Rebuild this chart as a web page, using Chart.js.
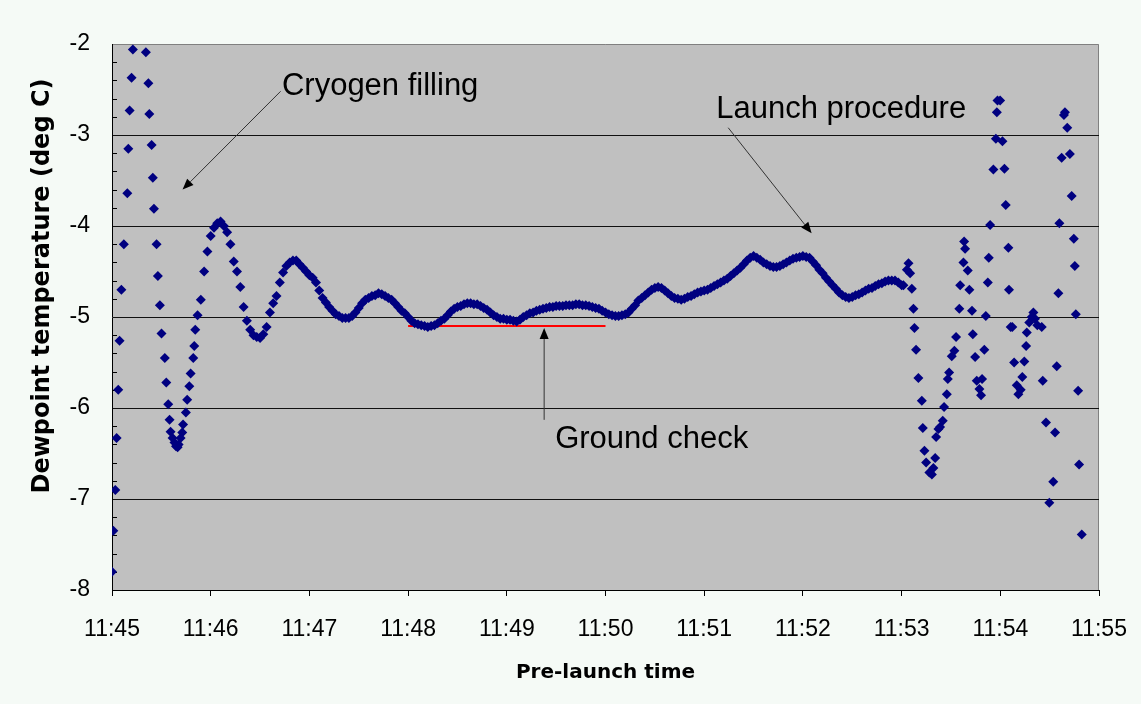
<!DOCTYPE html>
<html>
<head>
<meta charset="utf-8">
<title>Dewpoint temperature</title>
<script src="https://cdn.jsdelivr.net/npm/chart.js@4.4.1/dist/chart.umd.min.js"></script>
<style>
  html, body { margin: 0; padding: 0; background: #f5faf6; }
  canvas { display: block; }
</style>
</head>
<body>
<canvas id="dewChart" width="1141" height="704"></canvas>
<script>
// times are seconds after 11:45:00, values are dewpoint in deg C

// cryogen filling, sparse samples (values above -2 are off the chart)
const earlyTimes = [0, 0.8, 2.0, 2.8, 3.8, 4.6, 5.7, 7.2, 9.3, 9.9, 10.7, 11.9, 12.7,
  20.6, 22.1, 22.7, 24.1, 24.8, 25.5, 27.1, 27.9, 29.1, 30.1, 32.1, 33.0, 34.2, 35.0, 35.6,
  36.8, 38.0, 38.9, 39.9, 40.5, 41.7, 42.7, 43.2, 44.9, 45.7, 47.0, 47.8, 49.4, 50.0, 50.6, 52.0];
const earlyValues = [-7.80, -7.35, -6.90, -6.33, -5.80, -5.26, -4.70, -4.20, -3.64, -3.15, -2.73, -2.37, -2.06,
  -2.09, -2.43, -2.77, -3.11, -3.47, -3.81, -4.20, -4.55, -4.87, -5.18, -5.45, -5.72, -5.96, -6.13, -6.26,
  -6.33, -6.38, -6.42, -6.43, -6.40, -6.33, -6.27, -6.18, -6.05, -5.91, -5.76, -5.62, -5.45, -5.32, -5.14, -4.98];

// settled part, one reading every 2 s from 11:45:54 to 11:53:00
const settledStart = 54;
const settledStep = 2;
const settledValues = [
  -4.81, -4.50, -4.28, -4.11, -4.02, -3.97, -3.95, -4.00, -4.07, -4.20,
  -4.39, -4.50, -4.67, -4.89, -5.04, -5.14, -5.20, -5.22, -5.23, -5.19,
  -5.11, -4.95, -4.85, -4.77, -4.62, -4.51, -4.44, -4.40, -4.38, -4.38,
  -4.42, -4.46, -4.50, -4.54, -4.57, -4.62, -4.71, -4.79, -4.84, -4.89,
  -4.93, -4.97, -4.99, -5.01, -5.01, -5.01, -4.99, -4.95, -4.90, -4.85,
  -4.81, -4.79, -4.77, -4.76, -4.74, -4.75, -4.77, -4.79, -4.81, -4.85,
  -4.89, -4.93, -4.96, -5.00, -5.04, -5.07, -5.08, -5.09, -5.10, -5.11,
  -5.10, -5.09, -5.07, -5.04, -5.02, -4.98, -4.94, -4.91, -4.89, -4.88,
  -4.86, -4.85, -4.85, -4.86, -4.86, -4.88, -4.90, -4.92, -4.95, -4.98,
  -5.00, -5.02, -5.02, -5.03, -5.03, -5.04, -5.05, -5.03, -5.00, -4.98,
  -4.96, -4.95, -4.93, -4.92, -4.91, -4.90, -4.89, -4.89, -4.88, -4.88,
  -4.88, -4.87, -4.87, -4.87, -4.86, -4.86, -4.87, -4.87, -4.88, -4.89,
  -4.90, -4.91, -4.93, -4.95, -4.97, -4.98, -4.99, -4.99, -4.98, -4.97,
  -4.95, -4.91, -4.87, -4.82, -4.79, -4.76, -4.73, -4.70, -4.68, -4.67,
  -4.68, -4.71, -4.74, -4.77, -4.79, -4.80, -4.81, -4.80, -4.78, -4.77,
  -4.75, -4.73, -4.72, -4.71, -4.70, -4.68, -4.66, -4.64, -4.62, -4.60,
  -4.58, -4.55, -4.52, -4.49, -4.46, -4.42, -4.38, -4.35, -4.33, -4.35,
  -4.37, -4.40, -4.42, -4.44, -4.45, -4.45, -4.44, -4.42, -4.40, -4.38,
  -4.36, -4.35, -4.34, -4.33, -4.34, -4.35, -4.39, -4.43, -4.48, -4.52,
  -4.57, -4.61, -4.65, -4.69, -4.73, -4.76, -4.78, -4.79, -4.78, -4.76,
  -4.75, -4.73, -4.71, -4.69, -4.68, -4.66, -4.64, -4.63, -4.61, -4.60,
  -4.60, -4.60, -4.62, -4.65];

// launch procedure, sparse samples
const lateTimes = [481.1, 483.2, 484.2, 485.2, 486.2, 487.2, 487.8, 488.8, 490.2, 492.3,
  492.9, 493.9, 494.9, 496.9, 498.4, 499.3, 500.4, 501.0, 502.4, 503.4,
  505.0, 505.8, 507.5, 508.1, 508.9, 510.5, 512.1, 513.1, 515.1, 515.6,
  517.6, 518.0, 518.6, 520.2, 521.2, 522.8, 523.3, 524.7, 525.7, 527.3,
  528.3, 528.9, 530.3, 531.2, 532.4, 533.0, 533.8, 535.8, 537.3, 537.9,
  538.3, 539.9, 541.3, 542.5, 543.3, 544.9, 545.3, 546.3, 547.3, 548.4,
  550.0, 551.0, 552.4, 553.4, 554.6, 555.7, 556.1, 557.6, 559.1, 560.1,
  561.1, 562.5, 565.2, 565.8, 567.8, 569.8, 572.2, 573.3, 574.3, 575.3,
  575.9, 577.3, 578.7, 579.3, 580.7, 582.3, 583.4, 584.7, 585.3, 585.9,
  587.3, 587.9, 589.5];
const lateValues = [-4.65, -4.48, -4.41, -4.52, -4.69, -4.91, -5.12, -5.36, -5.67, -5.92,
  -6.22, -6.47, -6.60, -6.71, -6.73, -6.66, -6.55, -6.32, -6.23, -6.21,
  -6.14, -5.99, -5.85, -5.68, -5.61, -5.43, -5.37, -5.22, -4.91, -4.65,
  -4.40, -4.17, -4.25, -4.49, -4.70, -4.93, -5.19, -5.44, -5.70, -5.79,
  -5.86, -5.68, -5.36, -4.99, -4.62, -4.35, -3.99, -3.38, -3.04, -2.75,
  -2.62, -2.62, -3.07, -3.37, -3.77, -4.24, -4.70, -5.11, -5.11, -5.50,
  -5.75, -5.85, -5.80, -5.66, -5.49, -5.32, -5.17, -5.06, -5.00, -4.95,
  -5.02, -5.09, -5.11, -5.70, -6.16, -7.04, -6.81, -6.27, -5.54, -4.74,
  -3.97, -3.25, -2.78, -2.75, -2.92, -3.21, -3.67, -4.14, -4.44, -4.97,
  -5.81, -6.62, -7.39];

// ground check reference level (11:48 - 11:50)
const checkTimes = [180, 300];
const checkLevel = -5.1;

// axes
const timeTicks = [0, 60, 120, 180, 240, 300, 360, 420, 480, 540, 600];
const tempMin = -8, tempMax = -2;
const yTitle = 'Dewpoint temperature (deg C)';

// annotations: text anchor, arrow start, arrow tip (sec, deg C)
const noteTexts = ['Cryogen filling', 'Launch procedure', 'Ground check'];
const noteAt = [[103.3, -2.47], [367.3, -2.72], [269.4, -6.35]];
const arrowFrom = [[102.5, -2.52], [374.6, -2.92], [262.7, -6.13]];
const arrowTo = [[42.9, -3.60], [425.3, -4.08], [262.7, -5.12]];

document.addEventListener('DOMContentLoaded', function() {
    const ctx = document.getElementById('dewChart').getContext('2d');

    const points = [];
    earlyTimes.forEach((t, i) => points.push({x: t, y: earlyValues[i]}));
    settledValues.forEach((v, i) => points.push({x: settledStart + i * settledStep, y: v}));
    lateTimes.forEach((t, i) => points.push({x: t, y: lateValues[i]}));

    const sans = "'Liberation Sans', Arial, sans-serif";

    // grey plot area, frame and the small inside ticks on the y axis
    const backdrop = {
        id: 'backdrop',
        beforeDraw(chart) {
            const c = chart.ctx, a = chart.chartArea;
            c.save();
            c.fillStyle = '#f5faf6';
            c.fillRect(0, 0, chart.width, chart.height);
            c.fillStyle = '#c0c0c0';
            c.fillRect(a.left, a.top, a.right - a.left, a.bottom - a.top);
            c.strokeStyle = '#808080';
            c.lineWidth = 1;
            c.beginPath();
            c.moveTo(a.left, a.top + 0.5);
            c.lineTo(a.right - 0.5, a.top + 0.5);
            c.lineTo(a.right - 0.5, a.bottom);
            c.stroke();
            c.restore();
        },
        beforeDatasetsDraw(chart) {
            const c = chart.ctx, a = chart.chartArea, y = chart.scales.y;
            c.save();
            c.strokeStyle = '#000';
            c.lineWidth = 1;
            c.beginPath();
            for (let k = 1; k < 30; k++) {
                if (k % 5 === 0) continue;
                const py = Math.round(y.getPixelForValue(tempMin + k * 0.2)) + 0.5;
                c.moveTo(a.left, py);
                c.lineTo(a.left + 5, py);
            }
            c.stroke();
            c.restore();
        }
    };

    // text labels with arrows, plus the y axis title
    const notes = {
        id: 'notes',
        afterDatasetsDraw(chart) {
            const c = chart.ctx, sx = chart.scales.x, sy = chart.scales.y;
            c.save();
            c.fillStyle = '#000';
            c.font = '31px ' + sans;
            c.textBaseline = 'middle';
            c.textAlign = 'left';
            noteTexts.forEach((txt, i) => {
                c.fillText(txt, sx.getPixelForValue(noteAt[i][0]), sy.getPixelForValue(noteAt[i][1]));
                const x0 = sx.getPixelForValue(arrowFrom[i][0]), y0 = sy.getPixelForValue(arrowFrom[i][1]);
                const x1 = sx.getPixelForValue(arrowTo[i][0]), y1 = sy.getPixelForValue(arrowTo[i][1]);
                const ang = Math.atan2(y1 - y0, x1 - x0);
                const len = 11, half = 4.5;
                const bx = x1 - Math.cos(ang) * len, by = y1 - Math.sin(ang) * len;
                c.strokeStyle = '#333';
                c.lineWidth = 1;
                c.beginPath();
                c.moveTo(x0, y0);
                c.lineTo(bx, by);
                c.stroke();
                c.beginPath();
                c.moveTo(x1, y1);
                c.lineTo(bx - Math.sin(ang) * half, by + Math.cos(ang) * half);
                c.lineTo(bx + Math.sin(ang) * half, by - Math.cos(ang) * half);
                c.closePath();
                c.fill();
            });

            // y title sits a bit above the middle of the axis
            c.translate(43, 286);
            c.rotate(-Math.PI / 2);
            c.textAlign = 'center';
            c.font = "bold 24px 'DejaVu Sans', sans-serif";
            c.fillText(yTitle, 0, 0);
            c.restore();
        }
    };

    new Chart(ctx, {
        type: 'scatter',
        data: {
            datasets: [{
                label: 'Dewpoint',
                data: points,
                pointStyle: 'rectRot',
                pointRadius: 5,
                pointBorderWidth: 0,
                backgroundColor: '#000080',
                borderColor: '#000080'
            }, {
                label: 'Ground check',
                type: 'line',
                data: checkTimes.map(t => ({x: t, y: checkLevel})),
                borderColor: '#ff0000',
                borderWidth: 2,
                pointRadius: 0
            }]
        },
        options: {
            responsive: false,
            animation: false,
            events: [],
            layout: { autoPadding: false, padding: { top: 44, right: 42, left: 0, bottom: 0 } },
            scales: {
                x: {
                    type: 'linear',
                    min: 0,
                    max: 600,
                    afterFit: s => { s.height = 114; s.paddingLeft = 0; s.paddingRight = 0; },
                    afterBuildTicks: s => { s.ticks = timeTicks.map(v => ({value: v})); },
                    ticks: {
                        autoSkip: false,
                        maxRotation: 0,
                        padding: 20,
                        color: '#000',
                        font: { family: sans, size: 23 },
                        callback: v => '11:' + (45 + v / 60)
                    },
                    grid: { drawOnChartArea: false, drawTicks: true, tickLength: 6, color: '#000' },
                    border: { color: '#000', width: 1 },
                    title: {
                        display: true,
                        text: 'Pre-launch time',
                        color: '#000',
                        font: { family: "'DejaVu Sans', sans-serif", size: 20, weight: 'bold' },
                        padding: { top: 0, bottom: 19 }
                    }
                },
                y: {
                    min: tempMin,
                    max: tempMax,
                    afterFit: s => { s.width = 112; },
                    ticks: {
                        stepSize: 1,
                        padding: 22,
                        color: '#000',
                        font: { family: sans, size: 23 }
                    },
                    grid: {
                        drawTicks: false,
                        color: c => (c.tick && c.tick.value === tempMax) ? 'rgba(0,0,0,0)' : '#111'
                    },
                    border: { color: '#000', width: 1 },
                    title: { display: false }
                }
            },
            plugins: {
                legend: { display: false },
                tooltip: { enabled: false }
            }
        },
        plugins: [backdrop, notes]
    });
});
</script>
</body>
</html>
